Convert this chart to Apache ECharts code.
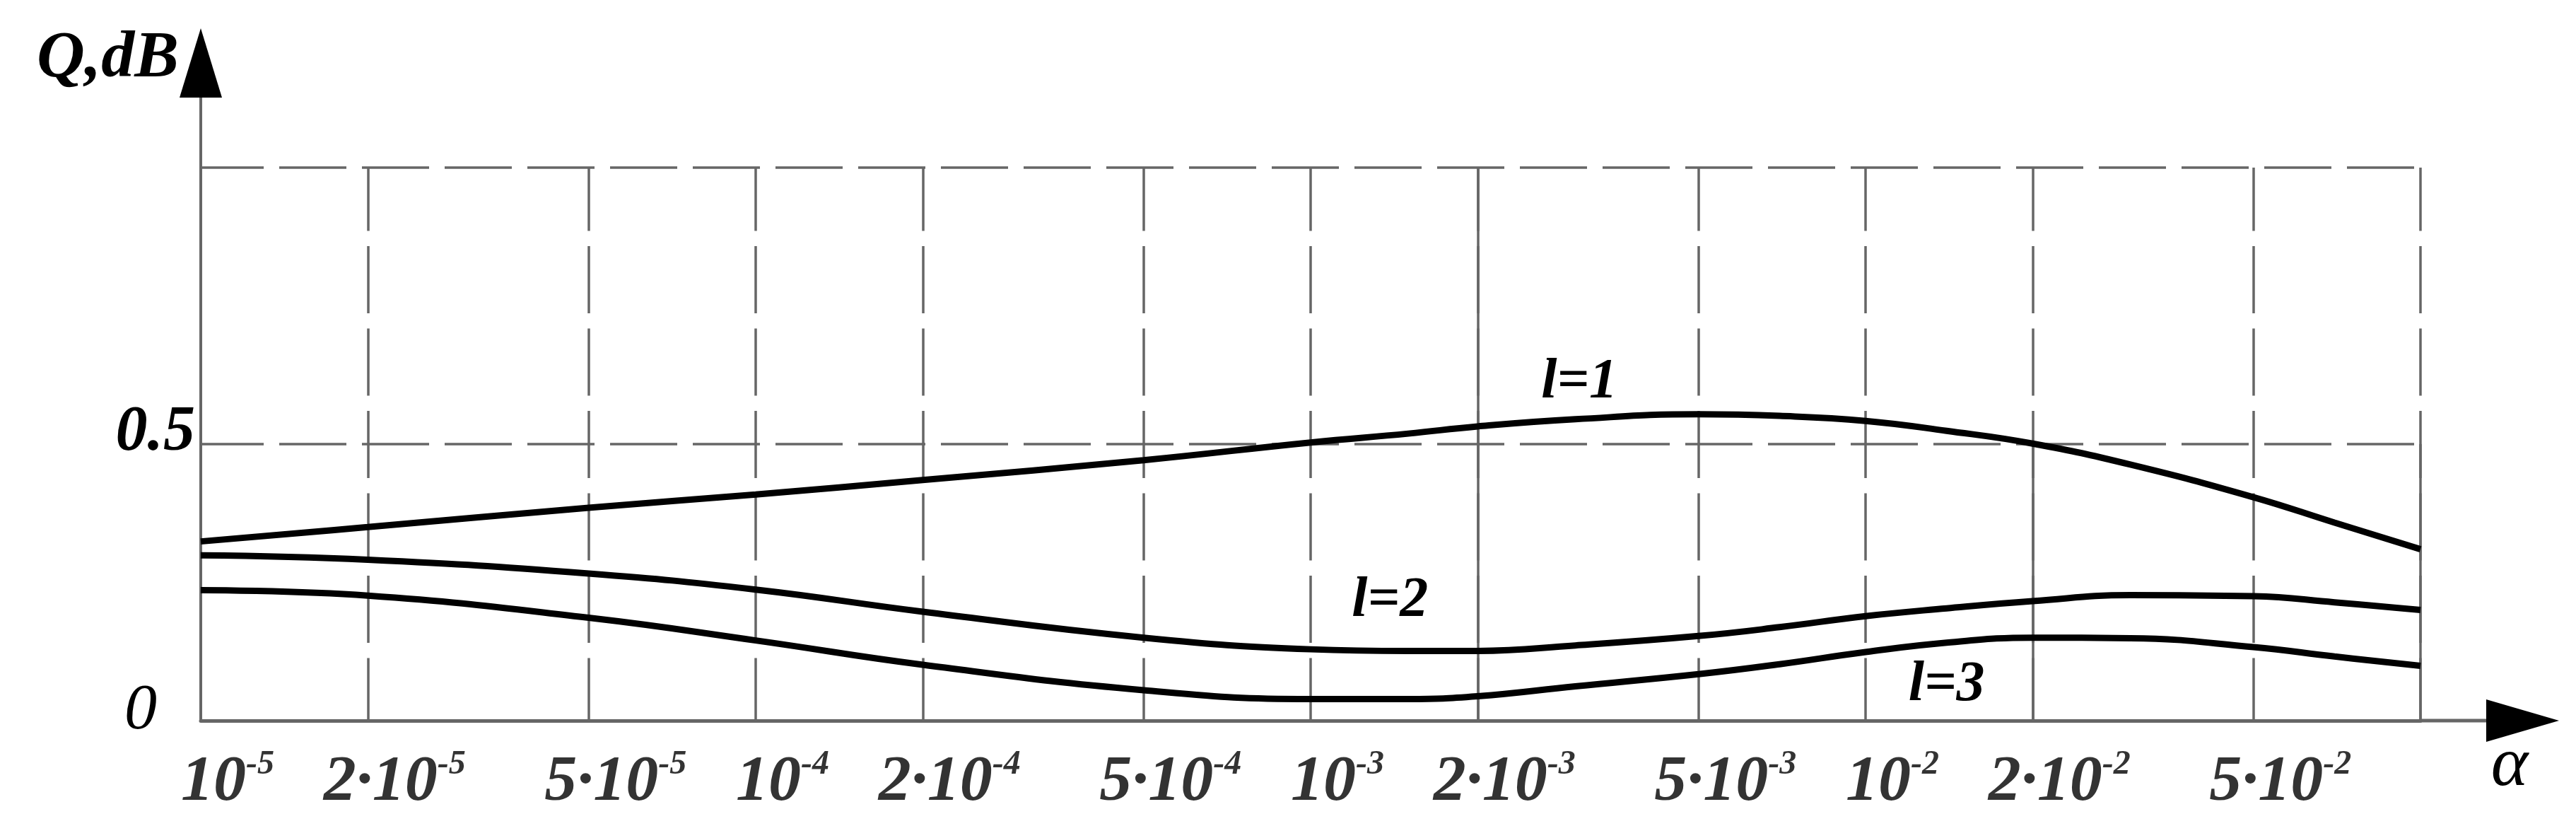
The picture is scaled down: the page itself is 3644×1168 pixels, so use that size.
<!DOCTYPE html>
<html>
<head>
<meta charset="utf-8">
<script src="https://cdn.jsdelivr.net/npm/echarts@6/dist/echarts.min.js"></script>
<style>
html,body{margin:0;padding:0;background:#fff;}
#c{width:3644px;height:1168px;}
</style>
</head>
<body>
<div id="c"></div>
<script>
// ---- data ----
const alpha = [1e-5, 2e-5, 5e-5, 1e-4, 2e-4, 5e-4, 1e-3, 1.5e-3, 2e-3, 3e-3, 5e-3, 7e-3, 1e-2, 1.4e-2, 2e-2, 3e-2, 5e-2, 7e-2, 1e-1];
const qL1 = [0.324, 0.350, 0.385, 0.409, 0.435, 0.471, 0.503, 0.519, 0.532, 0.545, 0.554, 0.551, 0.542, 0.524, 0.501, 0.463, 0.404, 0.358, 0.310];
const qL2 = [0.299, 0.291, 0.266, 0.237, 0.197, 0.150, 0.129, 0.126, 0.126, 0.136, 0.153, 0.169, 0.189, 0.203, 0.216, 0.227, 0.225, 0.214, 0.200];
const qL3 = [0.236, 0.226, 0.186, 0.145, 0.101, 0.055, 0.039, 0.039, 0.044, 0.062, 0.084, 0.102, 0.124, 0.141, 0.150, 0.149, 0.133, 0.116, 0.099];
const curveNames = ['l=1', 'l=2', 'l=3'];

const tickValues = [1e-5, 2e-5, 5e-5, 1e-4, 2e-4, 5e-4, 1e-3, 2e-3, 5e-3, 1e-2, 2e-2, 5e-2];
const tickMantissa = ['', '2·', '5·', '', '2·', '5·', '', '2·', '5·', '', '2·', '5·'];
const tickExponent = ['-5', '-5', '-5', '-4', '-4', '-4', '-3', '-3', '-3', '-2', '-2', '-2'];
const gridValues = [2e-5, 5e-5, 1e-4, 2e-4, 5e-4, 1e-3, 2e-3, 5e-3, 1e-2, 2e-2, 5e-2, 1e-1];
const solidFull = [2e-3];
const solidLower = [2e-2, 1e-1];
const yTickLabels = {0: '{z|0}', 0.5: '{h|0.5}'};

// ---- chart ----
const FONT = 'Liberation Serif';
const GRID_COLOR = '#666';
const chart = echarts.init(document.getElementById('c'), null, {renderer: 'canvas'});

function curveLabel(text, coord) {
  return {
    silent: true,
    symbol: 'circle',
    symbolSize: 1,
    itemStyle: {color: 'rgba(0,0,0,0)'},
    label: {
      show: true, position: 'inside', formatter: text, color: '#000',
      fontFamily: FONT, fontStyle: 'italic', fontWeight: 'bold', fontSize: 80
    },
    data: [{coord: coord}]
  };
}
function curve(name, values, labelCoord) {
  return {
    type: 'line', name: name,
    data: alpha.map((a, i) => [a, values[i]]),
    smooth: 0.45, showSymbol: false, symbol: 'none',
    lineStyle: {color: '#000', width: 9},
    z: 3, silent: true, animation: false,
    markPoint: curveLabel(name, labelCoord)
  };
}

const solidStyle = {type: 'solid', color: GRID_COLOR, width: 3.5};
const markLineData = []
  .concat(gridValues.map(v => ({xAxis: v})))
  .concat(solidFull.map(v => [{coord: [v, 0], lineStyle: solidStyle}, {coord: [v, 1], lineStyle: solidStyle}]))
  .concat(solidLower.map(v => [{coord: [v, 0], lineStyle: solidStyle}, {coord: [v, 0.5], lineStyle: solidStyle}]));

const option = {
  animation: false,
  backgroundColor: '#fff',
  textStyle: {fontFamily: FONT},
  grid: {left: 284, right: 220, top: 237, bottom: 149, containLabel: false, outerBoundsMode: 'none'},
  xAxis: [
    {
      type: 'log', logBase: 10, min: 1e-5, max: 1e-1, position: 'bottom',
      axisLine: {show: true, onZero: false, lineStyle: {color: GRID_COLOR, width: 5},
        symbol: ['none', 'rect'], symbolSize: [5, 93], symbolOffset: [0, 46.5]},
      axisTick: {show: false}, axisLabel: {show: false}, splitLine: {show: false},
      name: '{a|α}', nameLocation: 'end', nameGap: 126, nameMoveOverlap: false,
      nameTextStyle: {
        align: 'center', verticalAlign: 'top',
        rich: {a: {fontFamily: FONT, fontStyle: 'italic', fontSize: 100, lineHeight: 115, color: '#000', padding: [14, 0, 0, 0]}}
      }
    },
    {
      type: 'log', logBase: 10, min: 1e-5, max: 1e-1, position: 'bottom',
      axisLine: {show: true, onZero: false, lineStyle: {color: '#000', width: 0},
        symbol: ['none', 'triangle'], symbolSize: [60, 103], symbolOffset: [0, 144.5]},
      axisTick: {show: false}, axisLabel: {show: false}, splitLine: {show: false}
    }
  ],
  yAxis: [
    {
      type: 'value', min: 0, max: 1, interval: 0.5, position: 'left',
      axisLine: {show: true, onZero: false, lineStyle: {color: GRID_COLOR, width: 4},
        symbol: ['none', 'rect'], symbolSize: [4, 99], symbolOffset: [0, 49.5]},
      axisTick: {show: false},
      axisLabel: {
        margin: 0,
        formatter: v => yTickLabels[v] || '',
        rich: {
          h: {fontFamily: FONT, fontStyle: 'italic', fontWeight: 'bold', fontSize: 90, color: '#000', padding: [0, 8, 30, 0]},
          z: {fontFamily: FONT, fontStyle: 'italic', fontWeight: 'normal', fontSize: 92, color: '#000', padding: [0, 62, 26, 0]}
        }
      },
      splitLine: {show: true, showMinLine: false,
        lineStyle: {color: GRID_COLOR, width: 3.5, type: [95, 22], dashOffset: 6}},
      name: 'Q,dB', nameLocation: 'end', nameGap: 153, nameMoveOverlap: false,
      nameTextStyle: {fontFamily: FONT, fontStyle: 'italic', fontWeight: 'bold', fontSize: 94, color: '#000',
        align: 'right', verticalAlign: 'middle', padding: [0, 31, 0, 0]}
    },
    {
      type: 'value', min: 0, max: 1, interval: 0.5, position: 'left',
      axisLine: {show: true, onZero: false, lineStyle: {color: '#000', width: 0},
        symbol: ['none', 'triangle'], symbolSize: [60, 98], symbolOffset: [0, 148]},
      axisTick: {show: false}, axisLabel: {show: false}, splitLine: {show: false}
    }
  ],
  series: [
    {
      type: 'scatter', name: 'ticks', silent: true, z: 4,
      data: tickValues.map(v => [v, 0]),
      symbolSize: 1, itemStyle: {color: 'rgba(0,0,0,0)'},
      label: {
        show: true, position: 'bottom', distance: 38, offset: [38, 0],
        formatter: p => '{b|' + tickMantissa[p.dataIndex] + '10}{s|' + tickExponent[p.dataIndex] + '}',
        rich: {
          b: {fontFamily: FONT, fontStyle: 'italic', fontWeight: 'bold', fontSize: 92, lineHeight: 100, color: '#000'},
          s: {fontFamily: FONT, fontStyle: 'italic', fontWeight: 'bold', fontSize: 48, lineHeight: 28, verticalAlign: 'top', color: '#000'}
        }
      },
      markLine: {
        silent: true, symbol: ['none', 'none'], precision: 10, z: 1, animation: false,
        label: {show: false}, emphasis: {disabled: true},
        lineStyle: {color: GRID_COLOR, width: 3.5, type: [95, 21.5], dashOffset: 6.5},
        data: markLineData
      }
    },
    curve(curveNames[0], qL1, [3.05e-3, 0.611]),
    curve(curveNames[1], qL2, [1.39e-3, 0.216]),
    curve(curveNames[2], qL3, [1.40e-2, 0.064])
  ]
};
chart.setOption(option);
</script>
</body>
</html>
